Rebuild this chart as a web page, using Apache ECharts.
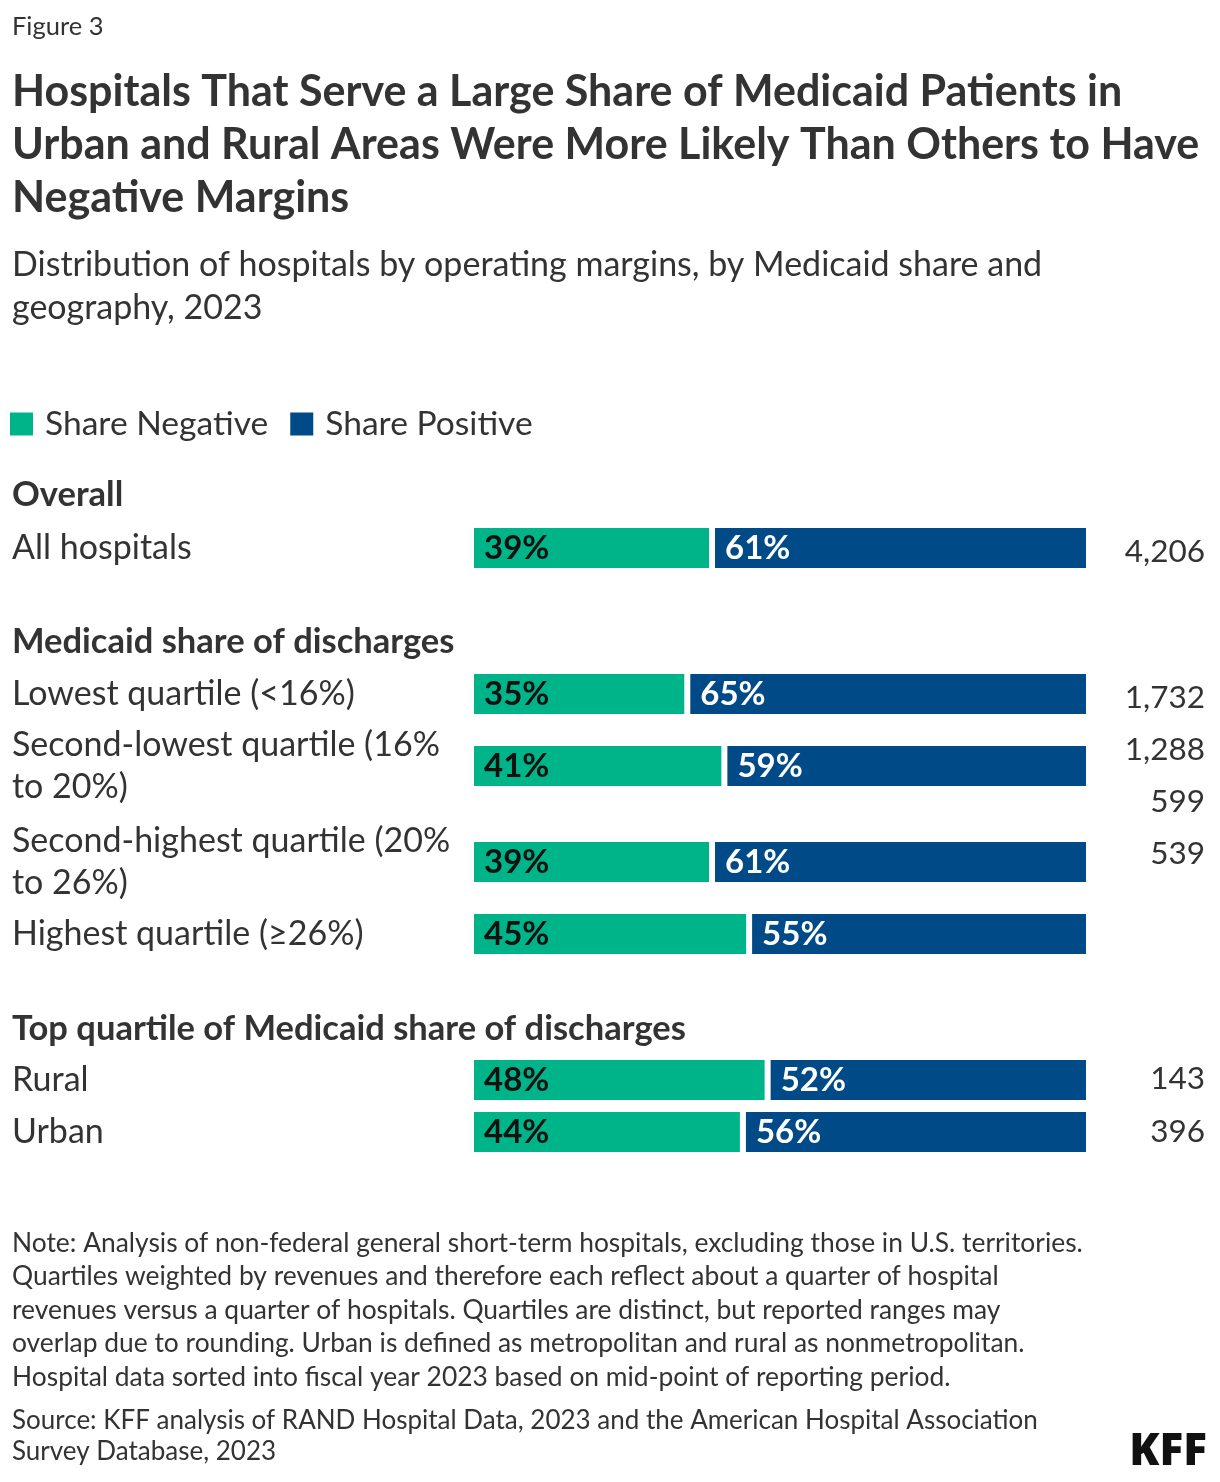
<!DOCTYPE html>
<html>
<head>
<meta charset="utf-8">
<script src="https://cdn.jsdelivr.net/npm/echarts@6/dist/echarts.min.js"></script>
<style>
html,body{margin:0;padding:0;background:#fff;}
#chart{width:1220px;height:1482px;}
</style>
</head>
<body>
<div id="chart"></div>
<script>
// ---- data ----
var categories = [
  'All hospitals',
  'Lowest quartile (<16%)',
  'Second-lowest quartile (16% to 20%)',
  'Second-highest quartile (20% to 26%)',
  'Highest quartile (≥26%)',
  'Rural',
  'Urban'
];
var shareNegative = [39, 35, 41, 39, 45, 48, 44];
var sharePositive = [61, 65, 59, 61, 55, 52, 56];
var hospitalCounts = [4206, 1732, 1288, 599, 539, 143, 396];
var seriesNames = ['Share Negative', 'Share Positive'];
var sectionHeaders = ['Overall', 'Medicaid share of discharges', 'Top quartile of Medicaid share of discharges'];

// ---- layout ----
var FONT = 'Lato, "Noto Sans", sans-serif';
var TXT = '#333333';
var GREEN = '#00b48a';
var BLUE = '#004b87';
var barCenters = [548, 694, 766, 862, 934, 1080, 1132];
var BAR = 46;           // includes 3px white border each side
var GL = 471, GR = 1220 - 1089;

function fmt(n){ return n.toLocaleString('en-US'); }

var grids = [], xAxes = [], yAxes = [], series = [];
categories.forEach(function(cat, i){
  grids.push({left: GL, right: GR, top: barCenters[i] - BAR/2, height: BAR, containLabel: false});
  xAxes.push({type: 'value', gridIndex: i, min: 0, max: 100, show: false});
  yAxes.push({
    type: 'category', gridIndex: i, data: [cat],
    axisLine: {show: false}, axisTick: {show: false},
    axisLabel: {
      show: true, align: 'left', margin: GL - 12,
      color: TXT, fontFamily: FONT, fontSize: 34, lineHeight: 42,
      width: 450, overflow: 'break'
    }
  });
  series.push({
    name: seriesNames[0], type: 'bar', stack: 's' + i, xAxisIndex: i, yAxisIndex: i,
    data: [shareNegative[i]], barWidth: BAR,
    itemStyle: {color: GREEN, borderColor: '#fff', borderWidth: 3},
    label: {show: true, position: 'insideLeft', distance: 13, formatter: '{c}%',
      color: '#111', fontFamily: FONT, fontWeight: 'bold', fontSize: 33},
    silent: true, animation: false
  });
  series.push({
    name: seriesNames[1], type: 'bar', stack: 's' + i, xAxisIndex: i, yAxisIndex: i,
    data: [sharePositive[i]], barWidth: BAR,
    itemStyle: {color: BLUE, borderColor: '#fff', borderWidth: 3},
    label: {show: true, position: 'insideLeft', distance: 13, formatter: '{c}%',
      color: '#fff', fontFamily: FONT, fontWeight: 'bold', fontSize: 33},
    silent: true, animation: false
  });
});

function txt(x, y, text, size, weight, lh, extra){
  var s = {x: x, y: y, text: text, fontFamily: FONT, fontSize: size, fontWeight: weight || 'normal',
    fill: TXT, lineHeight: lh || Math.round(size*1.3), align: 'left', verticalAlign: 'top'};
  if (extra) for (var k in extra) s[k] = extra[k];
  return {type: 'text', silent: true, style: s};
}

var graphics = [
  txt(12, 27 - 15, 'Figure 3', 25.5, 'normal', 30),
  txt(12, 92 - 26.5, 'Hospitals That Serve a Large Share of Medicaid Patients in\nUrban and Rural Areas Were More Likely Than Others to Have\nNegative Margins', 43, 'bold', 53),
  txt(12, 265 - 21.5, 'Distribution of hospitals by operating margins, by Medicaid share and\ngeography, 2023', 34, 'normal', 43),
  txt(12, 495 - 20, sectionHeaders[0], 34.5, 'bold', 40),
  txt(12, 642 - 20, sectionHeaders[1], 34.5, 'bold', 40),
  txt(12, 1029 - 20, sectionHeaders[2], 34.5, 'bold', 40),
  // counts column
  txt(1205, 552 - 20, fmt(hospitalCounts[0]), 31.5, 'normal', 40, {align: 'right'}),
  txt(1205, 698 - 26, hospitalCounts.slice(1, 5).map(fmt).join('\n'), 31.5, 'normal', 52, {align: 'right'}),
  txt(1205, 1079 - 20, fmt(hospitalCounts[5]), 31.5, 'normal', 40, {align: 'right'}),
  txt(1205, 1132 - 20, fmt(hospitalCounts[6]), 31.5, 'normal', 40, {align: 'right'}),
  // notes
  txt(12, 1243 - 16.75, 'Note: Analysis of non-federal general short-term hospitals, excluding those in U.S. territories.\nQuartiles weighted by revenues and therefore each reflect about a quarter of hospital\nrevenues versus a quarter of hospitals. Quartiles are distinct, but reported ranges may\noverlap due to rounding. Urban is defined as metropolitan and rural as nonmetropolitan.\nHospital data sorted into fiscal year 2023 based on mid-point of reporting period.', 26.4, 'normal', 33.5),
  txt(12, 1421 - 15.5, 'Source: KFF analysis of RAND Hospital Data, 2023 and the American Hospital Association\nSurvey Database, 2023', 26, 'normal', 31),
  txt(1207, 1452 - 22, 'KFF', 44, 900, 44, {align: 'right', fill: '#111', fontFamily: '"Noto Sans", sans-serif'})
];

var chart = echarts.init(document.getElementById('chart'), null, {renderer: 'canvas'});
chart.setOption({
  backgroundColor: '#fff',
  animation: false,
  legend: {
    data: seriesNames, left: 8, top: 407, padding: 0, itemWidth: 25, itemHeight: 25, itemGap: 20,
    icon: 'rect', selectedMode: false,
    textStyle: {color: TXT, fontFamily: FONT, fontSize: 33.6, padding: [0, 0, 0, 6]}
  },
  grid: grids, xAxis: xAxes, yAxis: yAxes, series: series,
  graphic: graphics
});
</script>
</body>
</html>
